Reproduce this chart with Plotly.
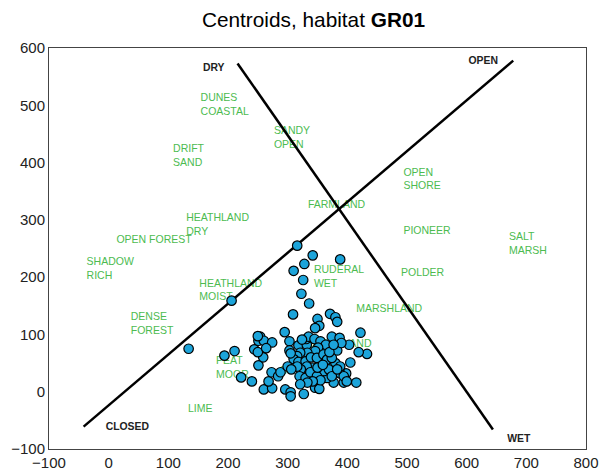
import plotly.graph_objects as go

# ---- data ----
points_x = [316, 342, 388, 328, 310, 326, 206, 323, 336, 309, 371, 380, 383, 350, 353, 346,
            295, 422, 134, 211, 194, 222, 240, 260, 274, 251, 259, 244, 250, 254, 251, 260,
            274, 264, 268, 273, 284, 288, 296, 305, 305, 327, 346, 353, 415, 433, 419, 405,
            403, 394, 398, 388, 377, 366, 361, 380, 383, 374, 387, 390, 303, 303, 318, 332,
            331, 335, 345, 355, 364, 364, 351, 346, 333, 321, 316, 310, 305, 318, 330, 339,
            349, 360, 366, 342, 332, 322, 316, 300, 306, 320, 330, 338, 349, 355, 342, 333,
            321, 369, 374, 388, 394, 399, 383, 350, 359, 374, 370, 377, 324, 250]
points_y = [255, 238, 231, 223, 211, 195, 159, 171, 154, 135, 136, 130, 122, 127, 115, 111,
            104, 103, 75, 71, 63, 25, 18, 4, 6, 46, 60, 74, 69, 96, 89, 89,
            86, 76, 18, 34, 27, 34, 4, -1, -8, -4, 7, 5, 16, 66, 69, 51,
            82, 16, 32, 32, 16, 24, 36, 50, 72, 96, 94, 85, 88, 72, 81, 82,
            92, 96, 92, 88, 78, 82, 77, 71, 68, 68, 62, 57, 67, 52, 53, 60,
            59, 65, 56, 42, 44, 39, 44, 44, 39, 27, 24, 34, 27, 20, 18, 16,
            13, 39, 27, 44, 27, 18, 39, 42, 47, 59, 69, 82, 91, 97]

habitat_labels = ["DUNES<br>COASTAL", "DRIFT<br>SAND", "SANDY<br>OPEN", "HEATHLAND<br>DRY",
                  "OPEN FOREST", "SHADOW<br>RICH", "HEATHLAND<br>MOIST", "DENSE<br>FOREST",
                  "PEAT<br>MOOR", "LIME", "FARMLAND", "OPEN<br>SHORE", "PIONEER",
                  "SALT<br>MARSH", "RUDERAL<br>WET", "POLDER", "MARSHLAND", "GRASSLAND",
                  "DRY GRASS"]
habitat_x = [154, 108, 277, 130, 13, -37, 152, 37, 180, 133, 334, 494, 494, 671, 344, 490, 415, 332, 288]
habitat_y = [500, 411, 442, 290, 264, 214, 176, 118, 41, -31, 325, 370, 280, 257, 200, 207, 143, 83, 36]

axis_labels = ["DRY", "OPEN", "CLOSED", "WET"]
axis_label_x = [158, 603, -5, 668]
axis_label_y = [565, 576, -63, -83]

closed_open_x = [-42, 678]
closed_open_y = [-61, 578]
dry_wet_x = [216, 644]
dry_wet_y = [573, -66]

x_ticks = [-100, 0, 100, 200, 300, 400, 500, 600, 700, 800]
y_ticks = [-100, 0, 100, 200, 300, 400, 500, 600]

fig = go.Figure()

fig.add_trace(go.Scatter(
    x=habitat_x, y=habitat_y, text=habitat_labels, mode="text",
    textposition="middle right",
    textfont=dict(family="Liberation Sans, Arial, sans-serif", size=10.5, color="#4cbb50"),
    hoverinfo="skip", showlegend=False))

fig.add_trace(go.Scatter(
    x=axis_label_x, y=axis_label_y, text=["<b>%s</b>" % t for t in axis_labels], mode="text",
    textposition="middle right",
    textfont=dict(family="Liberation Sans, Arial, sans-serif", size=10.4, color="#222222"),
    hoverinfo="skip", showlegend=False))

for lx, ly in [(closed_open_x, closed_open_y), (dry_wet_x, dry_wet_y)]:
    fig.add_trace(go.Scatter(x=lx, y=ly, mode="lines",
                             line=dict(color="black", width=2.5),
                             hoverinfo="skip", showlegend=False))

fig.add_trace(go.Scatter(
    x=points_x, y=points_y, mode="markers",
    marker=dict(size=9.5, color="#1ca4da", line=dict(color="black", width=1.2)),
    showlegend=False))

axis_common = dict(showgrid=False, zeroline=False, showline=True, mirror=True,
                   linecolor="#444444", linewidth=1, ticks="", automargin=False,
                   tickfont=dict(family="Liberation Sans, Arial, sans-serif", size=15, color="#222222"))

fig.update_xaxes(range=[-100, 800], tickvals=x_ticks, **axis_common)
fig.update_yaxes(range=[-100, 600], tickvals=y_ticks, **axis_common)

fig.update_layout(
    width=611, height=473,
    margin=dict(l=41, r=33, t=40, b=32),
    paper_bgcolor="white", plot_bgcolor="white",
    title=dict(text="Centroids, habitat <b>GR01</b>", x=0.5, xanchor="center",
               y=1 - 12 / 473, yanchor="middle",
               font=dict(family="Liberation Sans, Arial, sans-serif", size=20.8, color="black")),
)

fig.write_html("out.html")
